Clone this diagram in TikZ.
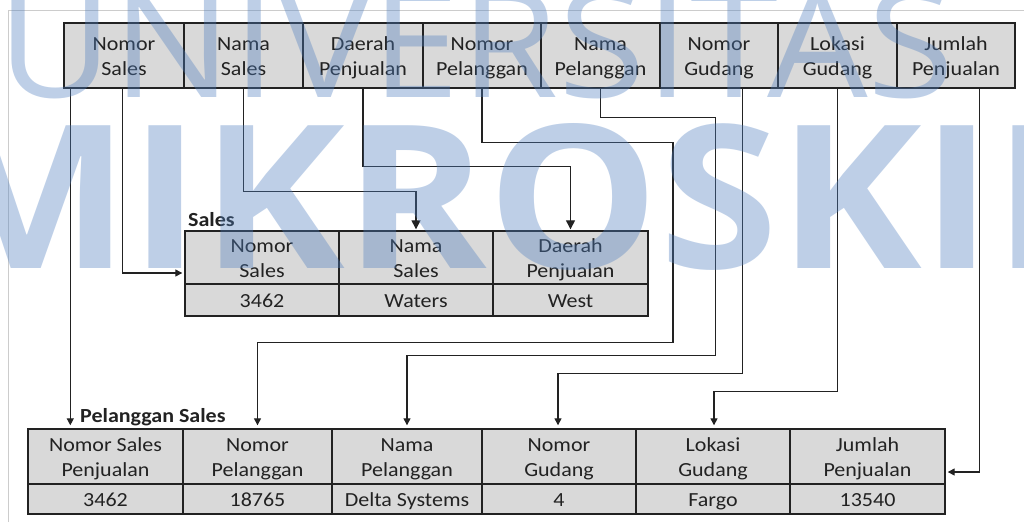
\documentclass[tikz,border=0pt]{standalone}
\usepackage{fontspec}
\setmainfont[FakeStretch=1.1]{Carlito}
\newfontfamily\wmfont{Open Sans}
\usetikzlibrary{calc,arrows.meta}
\definecolor{cellfill}{HTML}{D9D9D9}
\definecolor{ink}{HTML}{222222}
\definecolor{wm}{HTML}{4F7FC0}
\definecolor{pageframe}{HTML}{CCCCCC}
\newcommand\tcell[6]{%
  \node[cell, hdr, minimum width={(#3-#2)*1pt}, minimum height={(#5-#4)*1pt}]
    (#1) at ({(#2+#3)/2},{(#4+#5)/2}) {#6};}
\newcommand\dcell[6]{%
  \node[cell, dat, minimum width={(#3-#2)*1pt}, minimum height={(#5-#4)*1pt}]
    (#1) at ({(#2+#3)/2},{(#4+#5)/2}) {#6};}
\begin{document}
\begin{tikzpicture}[x=1pt,y=-1pt,
  cell/.style={draw=ink, line width=1.4pt, fill=cellfill, text=ink, inner sep=0pt,
    align=center, font=\fontsize{20}{25}\selectfont,
    execute at end node={\rule[-5pt]{0pt}{5pt}}},
  hdr/.style={execute at begin node={\rule{0pt}{44pt}}},
  dat/.style={execute at begin node={\rule{0pt}{19pt}}},
  conn/.style={draw=ink, line width=1.3pt, -{Triangle[length=9pt,width=9pt]}},
  connsmall/.style={draw=ink, line width=1.3pt, -{Triangle[length=7pt,width=7pt]}},
  tlabel/.style={font=\fontsize{20}{24}\selectfont\bfseries, text=ink, inner sep=0pt, anchor=base west},
  wmtext/.style={text=wm, text opacity=0.37, inner sep=0pt, anchor=base west}]
\useasboundingbox (0,0) rectangle (1024,522);
\fill[white] (0,0) rectangle (1024,522);
\draw[pageframe, line width=0.8pt] (8,522) -- (8,10) -- (1024,10);

% top table
\tcell{t1}{64}{184}{23}{88}{Nomor\\Sales}
\tcell{t2}{184}{303}{23}{88}{Nama\\Sales}
\tcell{t3}{303}{423}{23}{88}{Daerah\\Penjualan}
\tcell{t4}{423}{541}{23}{88}{Nomor\\Pelanggan}
\tcell{t5}{541}{660}{23}{88}{Nama\\Pelanggan}
\tcell{t6}{660}{778}{23}{88}{Nomor\\Gudang}
\tcell{t7}{778}{897}{23}{88}{Lokasi\\Gudang}
\tcell{t8}{897}{1015}{23}{88}{Jumlah\\Penjualan}

% Sales table
\node[tlabel] (lsales) at (188,226) {Sales};
\tcell{s1}{185}{339}{231}{284}{Nomor\\Sales}
\tcell{s2}{339}{493}{231}{284}{Nama\\Sales}
\tcell{s3}{493}{648}{231}{284}{Daerah\\Penjualan}
\dcell{sd1}{185}{339}{284}{316}{3462}
\dcell{sd2}{339}{493}{284}{316}{Waters}
\dcell{sd3}{493}{648}{284}{316}{West}

% Pelanggan Sales table
\node[tlabel] (lps) at (80,422) {Pelanggan Sales};
\tcell{b1}{28}{183}{429}{484}{Nomor Sales\\Penjualan}
\tcell{b2}{183}{332}{429}{484}{Nomor\\Pelanggan}
\tcell{b3}{332}{482}{429}{484}{Nama\\Pelanggan}
\tcell{b4}{482}{636}{429}{484}{Nomor\\Gudang}
\tcell{b5}{636}{790}{429}{484}{Lokasi\\Gudang}
\tcell{b6}{790}{945}{429}{484}{Jumlah\\Penjualan}
\dcell{bd1}{28}{183}{484}{514}{3462}
\dcell{bd2}{183}{332}{484}{514}{18765}
\dcell{bd3}{332}{482}{484}{514}{Delta Systems}
\dcell{bd4}{482}{636}{484}{514}{4}
\dcell{bd5}{636}{790}{484}{514}{Fargo}
\dcell{bd6}{790}{945}{484}{514}{13540}

% connectors
\draw[connsmall] ($(t1.south west)+(7,0)$) -- ($(b1.north west)+(43,-3)$);
\draw[connsmall] ($(t1.south west)+(59,0)$) |- ($(s1.west)+(-2,15.5)$);
\draw[conn] (t2.south) -- ++(0,103) -| ($(s2.north)+(0,-1)$);
\draw[conn] (t3.south) -- ++(0,78) -| ($(s3.north)+(0,-1)$);
\draw[connsmall] (t4.south) -- ++(0,54) -- ++(191,0) -- ++(0,200) -| ($(b2.north)+(0,-3)$);
\draw[connsmall] (t5.south) -- ++(0,29) -- ++(115,0) -- ++(0,238) -| ($(b3.north)+(0,-3)$);
\draw[connsmall] ($(t6.south west)+(83,0)$) -- ++(0,285) -| ($(b4.north)+(-1,-3)$);
\draw[connsmall] (t7.south) -- ++(0,303) -| ($(b5.north)+(1,-3)$);
\draw[connsmall] ($(t8.south west)+(83,0)$) |- ($(b6.east)+(2,15.5)$);

% watermark
\node[wmtext, xscale=1.06, font=\wmfont\fontsize{150}{150}\selectfont] (wm1) at (-3,97) {UNIVERSITAS};
\node[wmtext, xscale=1.08, font=\wmfont\bfseries\fontsize{200}{200}\selectfont] (wm2) at (-74,268) {MIKROSKIL};
\end{tikzpicture}
\end{document}
